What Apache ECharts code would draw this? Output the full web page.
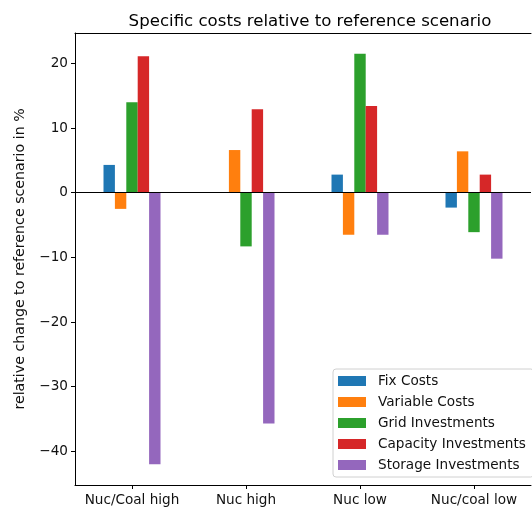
<!DOCTYPE html>
<html>
<head>
<meta charset="utf-8">
<script src="https://cdn.jsdelivr.net/npm/echarts@6/dist/echarts.min.js"></script>
<style>
html,body{margin:0;padding:0;background:#fff;}
#chart{width:532px;height:509px;}
</style>
</head>
<body>
<div id="chart"></div>
<script>
var categories = ['Nuc/Coal high', 'Nuc high', 'Nuc low', 'Nuc/coal low'];
var seriesNames = ['Fix Costs', 'Variable Costs', 'Grid Investments', 'Capacity Investments', 'Storage Investments'];
var fixCosts = [4.3, 0, 2.8, -2.3];
var variableCosts = [-2.5, 6.6, -6.5, 6.4];
var gridInvestments = [14.0, -8.3, 21.5, -6.1];
var capacityInvestments = [21.1, 12.9, 13.4, 2.8];
var storageInvestments = [-42.0, -35.7, -6.5, -10.2];
var yTicks = [-40, -30, -20, -10, 0, 10, 20];
var colors = ['#1f77b4', '#ff7f0e', '#2ca02c', '#d62728', '#9467bd'];

var allData = [fixCosts, variableCosts, gridInvestments, capacityInvestments, storageInvestments];
var font = 'DejaVu Sans';

var chart = echarts.init(document.getElementById('chart'));
var series = allData.map(function (d, i) {
  var s = {
    name: seriesNames[i],
    type: 'bar',
    data: d,
    barWidth: 11.4,
    barGap: '0%',
    itemStyle: { color: colors[i] },
    emphasis: { disabled: true },
    animation: false
  };
  if (i === 0) {
    s.markLine = {
      silent: true,
      symbol: ['none', 'none'],
      label: { show: false },
      lineStyle: { color: '#000', width: 1, type: 'solid' },
      data: [{ yAxis: 0 }],
      animation: false
    };
  }
  return s;
});

chart.setOption({
  animation: false,
  title: {
    text: 'Specific costs relative to reference scenario',
    left: 305,
    textAlign: 'center',
    top: 8,
    textStyle: { fontFamily: font, fontSize: 16.6, fontWeight: 'normal', color: '#000' }
  },
  grid: { left: 75, right: 1, top: 33, bottom: 24 },
  legend: {
    orient: 'vertical',
    left: 333,
    top: 369,
    itemWidth: 28,
    itemHeight: 10,
    itemGap: 7,
    padding: [5, 8, 5, 5],
    backgroundColor: 'rgba(255,255,255,0.8)',
    borderColor: '#d0d0d0',
    borderWidth: 1,
    borderRadius: 3,
    icon: 'rect',
    textStyle: { fontFamily: font, fontSize: 13.6, color: '#111', padding: [0, 0, 0, 7] },
    data: seriesNames
  },
  xAxis: [{
    type: 'category',
    data: categories,
    position: 'bottom',
    axisLine: { show: true, onZero: false, lineStyle: { color: '#000', width: 1 } },
    axisTick: { show: true, alignWithLabel: true, length: 4, lineStyle: { color: '#000' } },
    axisLabel: { fontFamily: font, fontSize: 13.6, color: '#111', margin: 8, interval: 0 },
    splitLine: { show: false }
  }, {
    type: 'category',
    data: categories,
    position: 'top',
    axisLine: { show: true, onZero: false, lineStyle: { color: '#000', width: 1 } },
    axisTick: { show: false },
    axisLabel: { show: false },
    splitLine: { show: false }
  }],
  yAxis: {
    type: 'value',
    min: -45.2,
    max: 24.7,
    name: 'relative change to reference scenario in %',
    nameLocation: 'middle',
    nameRotate: 90,
    nameGap: 48,
    nameTextStyle: { fontFamily: font, fontSize: 14.2, color: '#111' },
    axisLine: { show: true, lineStyle: { color: '#000', width: 1 } },
    axisTick: { show: true, length: 4, customValues: yTicks, lineStyle: { color: '#000' } },
    axisLabel: {
      fontFamily: font, fontSize: 13.6, color: '#111', margin: 7,
      customValues: yTicks,
      formatter: function (v) { return v < 0 ? '\u2212' + Math.abs(v) : String(v); }
    },
    splitLine: { show: false }
  },
  series: series
});
</script>
</body>
</html>
